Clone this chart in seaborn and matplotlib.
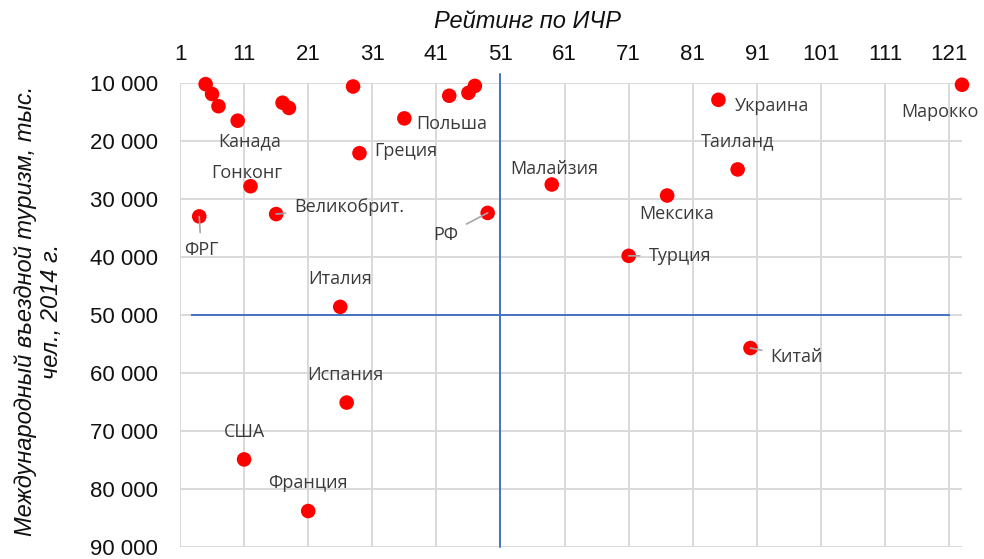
import pandas as pd
import matplotlib.pyplot as plt
import seaborn as sns

# Data: HDI rank vs international arrivals (thousands), 2014
countries = ['', '', '', 'Канада', '', '', '', 'Польша', '', '', '', 'Греция',
             'Гонконг', 'ФРГ', 'Великобрит.', 'РФ', 'Украина', 'Марокко', 'Таиланд',
             'Малайзия', 'Мексика', 'Турция', 'Китай', 'Италия', 'Испания', 'США', 'Франция']
hdi_rank = [5, 6, 7, 10, 17, 18, 28, 36, 43, 46, 47, 29,
            12, 4, 16, 49, 85, 123, 88,
            59, 77, 71, 90, 26, 27, 11, 21]
arrivals = [10200, 11900, 14000, 16500, 13400, 14300, 10600, 16100, 12200, 11700, 10500, 22100,
            27800, 33000, 32600, 32400, 12900, 10300, 24900,
            27500, 29400, 39800, 55700, 48600, 65100, 74900, 83800]
x_ticks = list(range(1, 122, 10))
y_ticks = list(range(10000, 90001, 10000))
hdi_threshold = 51
tourism_threshold = 50000

df = pd.DataFrame({'country': countries, 'rank': hdi_rank, 'arrivals': arrivals})

# label placement (pixel offsets from the point, ha, leader line)
label_pos = {
    'Канада': (12, -21, 'center', False),
    'Гонконг': (-4, 13, 'center', False),
    'ФРГ': (2, -34, 'center', True),
    'Великобрит.': (18, 7, 'left', True),
    'РФ': (-42, -22, 'center', True),
    'Польша': (12, -6, 'left', False),
    'Греция': (15, 2, 'left', False),
    'Италия': (0, 28, 'center', False),
    'Испания': (-1, 28, 'center', False),
    'США': (0, 27, 'center', False),
    'Франция': (0, 28, 'center', False),
    'Украина': (16, -6, 'left', False),
    'Марокко': (-22, -27, 'center', False),
    'Таиланд': (0, 28, 'center', False),
    'Малайзия': (2, 16, 'center', False),
    'Мексика': (10, -18, 'center', False),
    'Турция': (20, 0, 'left', True),
    'Китай': (20, -9, 'left', True),
}

sns.set_style('white')
plt.rcParams['font.family'] = ['Liberation Sans', 'DejaVu Sans']

fig = plt.figure(figsize=(9.84, 5.59), dpi=100)
ax = fig.add_axes([180 / 984, 1 - 547 / 559, (962 - 180) / 984, (547 - 83) / 559])

ax.axvline(hdi_threshold, ymin=0, ymax=1.02, color='#4472C4', lw=1.4, clip_on=False, zorder=2)
ax.hlines(tourism_threshold, 2.7, 121.2, color='#4472C4', lw=1.4, zorder=2)

sns.scatterplot(data=df, x='rank', y='arrivals', color='#FF0000', s=110,
                edgecolor='none', ax=ax, zorder=4, clip_on=False, legend=False)

for _, row in df.iterrows():
    if row['country'] in label_pos:
        dx, dy, ha, leader = label_pos[row['country']]
        ax.annotate(row['country'], (row['rank'], row['arrivals']),
                    xytext=(dx, dy), textcoords='offset pixels',
                    ha=ha, va='center', fontsize=13, color='#3a3a3a',
                    family=['Open Sans', 'DejaVu Sans'], zorder=5,
                    arrowprops=dict(arrowstyle='-', color='#a6a6a6', lw=1.2,
                                    shrinkA=4, shrinkB=0) if leader else None)

ax.set_xlim(1, 123)
ax.set_ylim(90000, 10000)
ax.xaxis.tick_top()
ax.set_xticks(x_ticks)
ax.set_yticks(y_ticks)
ax.set_yticklabels([f'{v:,}'.replace(',', ' ') for v in y_ticks])
ax.tick_params(axis='x', length=0, pad=13, labelsize=16, labelcolor='#111111')
ax.tick_params(axis='y', length=0, pad=16, labelsize=16, labelcolor='#111111')
ax.grid(True, color='#d9d9d9', lw=1.4)
ax.set_axisbelow(True)
for s in ax.spines.values():
    s.set_visible(False)
ax.set_xlabel('')
ax.set_ylabel('')

fig.text(527 / 984, 1 - 22 / 559, 'Рейтинг по ИЧР', ha='center', va='center',
         fontsize=17, style='italic', color='#111111')
fig.text(38.5 / 984, 1 - 311 / 559, 'Международный въездной туризм, тыс.\nчел., 2014 г.',
         ha='center', va='center', rotation=90, multialignment='center',
         fontsize=17, style='italic', color='#111111', linespacing=1.15)

fig.savefig('out.png', dpi=100)
